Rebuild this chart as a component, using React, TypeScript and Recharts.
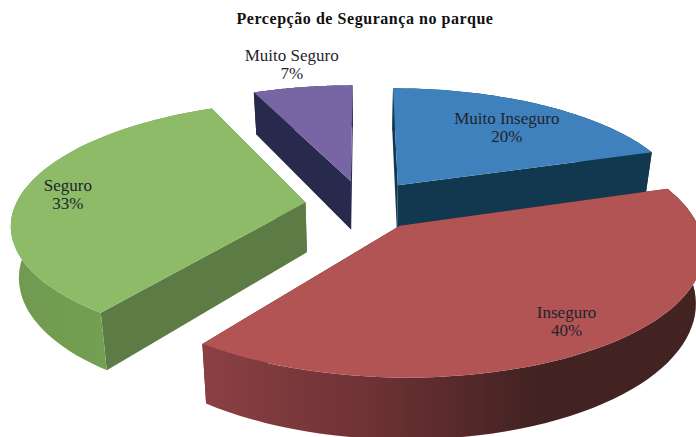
import { PieChart, Pie } from 'recharts';

const categories = ['Muito Inseguro', 'Inseguro', 'Seguro', 'Muito Seguro'];
const values = [20, 40, 33.4, 6.6];
const chartData = categories.map((name, i) => ({ name, value: values[i] }));

// how the flat pie gets tilted
const TILT = 119 / 290;
const PERSPECTIVE = 0.165;
const DEPTH = 50;
const BOTTOM_SHRINK = 0.977;

const explode = [0.21, 0.21, 0.2, 0.21];
const labelRadius = [0.72, 0.82, 0.84, 1.31];
const labelTurn = [1, 0, -0.5, 0.3];

const topColors = ['#3f81bc', '#b25354', '#8dbb67', '#7866a4'];
const wallColors = ['#123850', '#4a2525', '#5d7b45', '#272a4c'];
const rimStops = [
  ['#123850', '#123850'],
  ['#8b4044', '#6e3235', '#432222', '#432222'],
  ['#6f9a50', '#74a052', '#6c9650'],
  ['#272a4c', '#272a4c'],
];

const toRad = (d: number) => (d * Math.PI) / 180;

// flat coordinates (x right, y toward viewer, radius 1) to screen
function project(cx: number, cy: number, r: number, x: number, y: number, down = 0) {
  const s = 1 / (1 - PERSPECTIVE * y);
  const shrink = down ? BOTTOM_SHRINK : 1;
  return [cx + x * r * s * shrink, cy + y * r * TILT * s + down * s];
}

function polar(clock: number, radius: number) {
  const a = toRad(clock);
  return [Math.sin(a) * radius, -Math.cos(a) * radius];
}

const toPath = (pts: number[][]) =>
  'M' + pts.map((p) => `${p[0].toFixed(1)},${p[1].toFixed(1)}`).join('L') + 'Z';

function Slice(props: any) {
  const { cx, cy, outerRadius, startAngle, endAngle, name } = props;
  const i = categories.indexOf(name);
  const from = 90 - startAngle;
  const to = 90 - endAngle;
  const [ox, oy] = polar((from + to) / 2, explode[i]);

  const arc: number[][] = [];
  for (let k = 0; k <= 60; k++) {
    const [x, y] = polar(from + ((to - from) * k) / 60, 1);
    arc.push([ox + x, oy + y]);
  }
  const top = (p: number[]) => project(cx, cy, outerRadius, p[0], p[1]);
  const low = (p: number[]) => project(cx, cy, outerRadius, p[0], p[1], DEPTH);

  const apex = [ox, oy];
  const first = arc[0];
  const last = arc[arc.length - 1];
  const gradId = `rim-${i}`;
  const stops = rimStops[i];
  const xs = arc.map((p) => top(p)[0]);

  return (
    <g>
      <defs>
        <linearGradient
          id={gradId}
          gradientUnits="userSpaceOnUse"
          x1={Math.min(...xs)}
          x2={Math.max(...xs)}
          y1={0}
          y2={0}
        >
          {stops.map((c, n) => (
            <stop key={n} offset={n / (stops.length - 1)} stopColor={c} />
          ))}
        </linearGradient>
      </defs>
      <path d={toPath([top(apex), top(first), low(first), low(apex)])} fill={wallColors[i]} />
      <path d={toPath([top(apex), top(last), low(last), low(apex)])} fill={wallColors[i]} />
      <path d={toPath([...arc.map(top), ...arc.slice().reverse().map(low)])} fill={`url(#${gradId})`} />
      <path d={toPath([top(apex), ...arc.map(top)])} fill={topColors[i]} />
    </g>
  );
}

function SliceLabel(props: any) {
  const { cx, cy, outerRadius, midAngle, name, percent } = props;
  const i = categories.indexOf(name);
  const clock = 90 - midAngle;
  const [ox, oy] = polar(clock, explode[i]);
  const [lx, ly] = polar(clock + labelTurn[i], labelRadius[i]);
  const [x, y] = project(cx, cy, outerRadius, ox + lx, oy + ly);
  return (
    <text
      x={x}
      textAnchor="middle"
      fontFamily="'Liberation Serif', serif"
      fontSize={17}
      fill="#1f2430"
    >
      <tspan x={x} y={y - 2}>
        {name}
      </tspan>
      <tspan x={x} y={y + 16}>
        {Math.round(percent * 100)}%
      </tspan>
    </text>
  );
}

export default function App() {
  return (
    <div style={{ position: 'absolute', left: 0, top: 0, width: 696, height: 437, overflow: 'hidden', background: '#fff' }}>
      <PieChart width={696} height={437} margin={{ top: 0, right: 0, bottom: 0, left: 0 }}>
        <text
          x={365}
          y={24}
          textAnchor="middle"
          fontFamily="'Liberation Serif', serif"
          fontSize={16}
          fontWeight="bold"
          letterSpacing={0.55}
          fill="#111"
        >
          Percepção de Segurança no parque
        </text>
        <Pie
          data={chartData}
          dataKey="value"
          nameKey="name"
          cx={363}
          cy={205}
          innerRadius={0}
          outerRadius={290}
          startAngle={90}
          endAngle={-270}
          paddingAngle={0}
          stroke="none"
          shape={Slice}
          label={SliceLabel}
          labelLine={false}
          isAnimationActive={false}
        />
      </PieChart>
    </div>
  );
}
